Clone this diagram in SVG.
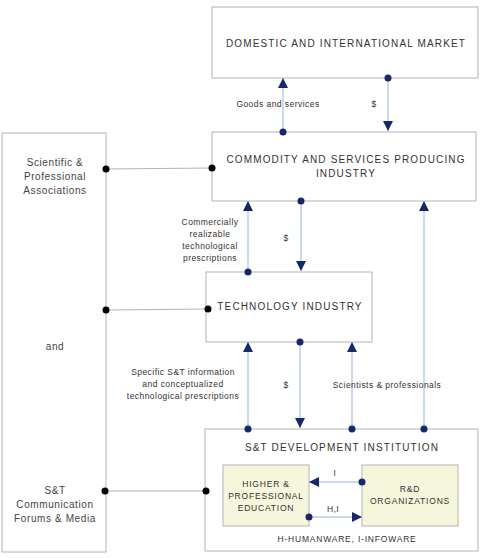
<svg xmlns="http://www.w3.org/2000/svg" width="482" height="558" viewBox="0 0 482 558">
<style>
.box{fill:#fff;stroke:#b4b4b4;stroke-width:1}
.inner{fill:#f6f6dc;stroke:#b4b4b4;stroke-width:1}
.title{font-family:"Liberation Sans",Arial,sans-serif;font-size:10px;letter-spacing:1.15px;fill:#333;text-anchor:middle}
.side{font-family:"Liberation Sans",Arial,sans-serif;font-size:10px;letter-spacing:0.6px;fill:#444;text-anchor:middle}
.lbl{font-family:"Liberation Sans",Arial,sans-serif;font-size:8.5px;letter-spacing:0.45px;fill:#333;text-anchor:middle}
.in{font-family:"Liberation Sans",Arial,sans-serif;font-size:8.5px;letter-spacing:0.8px;fill:#333;text-anchor:middle}
.flow{stroke:#9bb5dc;stroke-width:1;fill:none}
.link{stroke:#b4b4b4;stroke-width:1;fill:none}
.nd{fill:#17276e}
.bd{fill:#000}
</style>
<defs>
<marker id="ah" viewBox="0 0 10 10" refX="10" refY="5" markerWidth="10" markerHeight="10" markerUnits="userSpaceOnUse" orient="auto">
<path d="M0,0 L10,5 L0,10 Z" fill="#17276e"/>
</marker>
</defs>

<g id="left-box">
<rect class="box" x="2" y="133" width="104" height="419"/>
<text class="side" x="55" y="166">Scientific &amp;</text>
<text class="side" x="55" y="180">Professional</text>
<text class="side" x="55" y="194">Associations</text>
<text class="side" x="55" y="350">and</text>
<text class="side" x="55" y="494">S&amp;T</text>
<text class="side" x="55" y="508">Communication</text>
<text class="side" x="55" y="522">Forums &amp; Media</text>
</g>

<g id="market">
<rect class="box" x="212" y="7" width="266" height="71"/>
<text class="title" x="346" y="47">DOMESTIC AND INTERNATIONAL MARKET</text>
</g>

<g id="commodity">
<rect class="box" x="212" y="132" width="264" height="69"/>
<text class="title" x="346" y="163">COMMODITY AND SERVICES PRODUCING</text>
<text class="title" x="346" y="177">INDUSTRY</text>
</g>

<g id="technology">
<rect class="box" x="206" y="272" width="166" height="70"/>
<text class="title" x="290" y="310">TECHNOLOGY INDUSTRY</text>
</g>

<g id="st-institution">
<rect class="box" x="205" y="429" width="273" height="122"/>
<text class="title" x="342" y="451">S&amp;T DEVELOPMENT INSTITUTION</text>
<text class="in" x="347" y="542">H-HUMANWARE, I-INFOWARE</text>
</g>

<g id="higher-education">
<rect class="inner" x="223" y="465" width="86" height="61"/>
<text class="in" x="266" y="487">HIGHER &amp;</text>
<text class="in" x="266" y="499">PROFESSIONAL</text>
<text class="in" x="266" y="511">EDUCATION</text>
</g>

<g id="rd-organizations">
<rect class="inner" x="362" y="465" width="96" height="61"/>
<text class="in" x="410" y="492">R&amp;D</text>
<text class="in" x="410" y="504">ORGANIZATIONS</text>
</g>

<g id="connectors">
<line class="link" x1="106" y1="169" x2="212" y2="168"/>
<circle class="bd" cx="106" cy="169" r="3.5"/>
<circle class="bd" cx="212" cy="168" r="3.5"/>
<line class="link" x1="106" y1="310" x2="208" y2="309"/>
<circle class="bd" cx="106" cy="310" r="3.5"/>
<circle class="bd" cx="208" cy="309" r="3.5"/>
<line class="link" x1="105" y1="491" x2="206" y2="491"/>
<circle class="bd" cx="105" cy="491" r="3.5"/>
<circle class="bd" cx="206" cy="491" r="3.5"/>

<line class="flow" x1="283" y1="132" x2="283" y2="78" marker-end="url(#ah)"/>
<circle class="nd" cx="283" cy="132" r="3.5"/>
<line class="flow" x1="388" y1="78" x2="388" y2="131" marker-end="url(#ah)"/>
<circle class="nd" cx="388" cy="78" r="3.5"/>
<text class="lbl" x="278" y="107">Goods and services</text>
<text class="lbl" x="374" y="107">$</text>

<line class="flow" x1="248" y1="272" x2="248" y2="201" marker-end="url(#ah)"/>
<circle class="nd" cx="248" cy="272" r="3.5"/>
<line class="flow" x1="301" y1="201" x2="301" y2="271" marker-end="url(#ah)"/>
<circle class="nd" cx="301" cy="201" r="3.5"/>
<text class="lbl" x="210" y="225">Commercially</text>
<text class="lbl" x="210" y="237">realizable</text>
<text class="lbl" x="210" y="249">technological</text>
<text class="lbl" x="210" y="261">prescriptions</text>
<text class="lbl" x="286" y="241">$</text>

<line class="flow" x1="424" y1="429" x2="424" y2="201" marker-end="url(#ah)"/>
<circle class="nd" cx="424" cy="429" r="3.5"/>

<line class="flow" x1="248" y1="429" x2="248" y2="342" marker-end="url(#ah)"/>
<circle class="nd" cx="248" cy="429" r="3.5"/>
<line class="flow" x1="300" y1="342" x2="300" y2="428" marker-end="url(#ah)"/>
<circle class="nd" cx="300" cy="342" r="3.5"/>
<line class="flow" x1="352" y1="429" x2="352" y2="342" marker-end="url(#ah)"/>
<circle class="nd" cx="352" cy="429" r="3.5"/>
<text class="lbl" x="183" y="375">Specific S&amp;T information</text>
<text class="lbl" x="183" y="387">and conceptualized</text>
<text class="lbl" x="183" y="399">technological prescriptions</text>
<text class="lbl" x="286" y="388">$</text>
<text class="lbl" x="387" y="388">Scientists &amp; professionals</text>

<line class="flow" x1="362" y1="482" x2="309" y2="482" marker-end="url(#ah)"/>
<circle class="nd" cx="362" cy="482" r="3.5"/>
<text class="lbl" x="335" y="476">I</text>
<line class="flow" x1="309" y1="517" x2="362" y2="517" marker-end="url(#ah)"/>
<circle class="nd" cx="309" cy="517" r="3.5"/>
<text class="lbl" x="333" y="512">H,I</text>
</g>
</svg>
